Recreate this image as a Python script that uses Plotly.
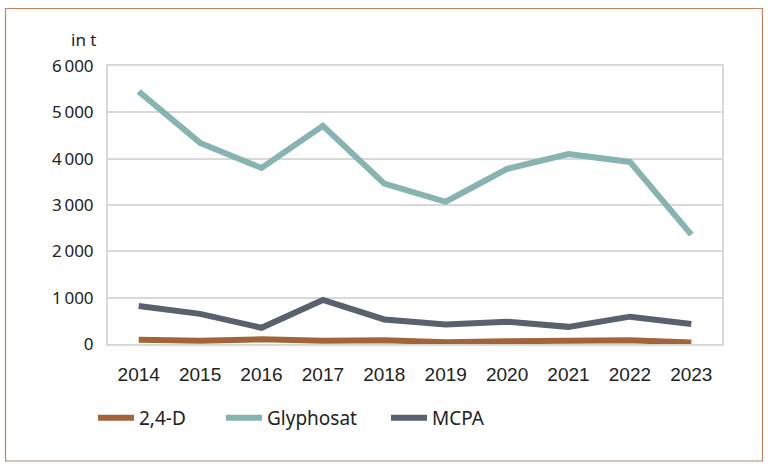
import plotly.graph_objects as go

years = ["2014", "2015", "2016", "2017", "2018", "2019", "2020", "2021", "2022", "2023"]
d24 = [90, 70, 100, 70, 80, 40, 60, 70, 80, 30]
glyphosat = [5450, 4340, 3800, 4710, 3460, 3070, 3780, 4100, 3930, 2360]
mcpa = [820, 650, 350, 950, 530, 420, 480, 370, 590, 430]
yticks = [0, 1000, 2000, 3000, 4000, 5000, 6000]
ytick_labels = ["0", "1\u2009000", "2\u2009000", "3\u2009000", "4\u2009000", "5\u2009000", "6\u2009000"]

NARROW = "Liberation Sans Narrow, Liberation Sans, sans-serif"
HUMAN = "Noto Sans, Open Sans, sans-serif"
TXT = "#222222"

W, H = 768, 469
L, R, T, B = 108, 46, 66, 125
pw, ph = W - L - R, H - T - B

series = [("2,4-D", d24, "#a2653a", "legend", 99),
          ("Glyphosat", glyphosat, "#87b4b1", "legend2", 227),
          ("MCPA", mcpa, "#58616c", "legend3", 392)]

fig = go.Figure()
legends = {}
for name, vals, col, lg, lx in series:
    fig.add_trace(go.Scatter(x=years, y=vals, name=name, mode="lines", legend=lg,
                             line=dict(color=col, width=6)))
    legends[lg] = dict(orientation="h", x=(lx - 6 - L) / pw, y=(344 - 418) / ph,
                       xanchor="left", yanchor="middle", bgcolor="rgba(0,0,0,0)",
                       font=dict(family=HUMAN, size=19, color=TXT), itemwidth=36)

fig.update_layout(
    width=W, height=H,
    margin=dict(l=L, r=R, t=T, b=B),
    paper_bgcolor="white", plot_bgcolor="white",
    font=dict(family=HUMAN, size=17, color=TXT),
    showlegend=True,
    xaxis=dict(type="category", range=[-0.5, 9.5], showgrid=False,
               showline=True, linecolor="#d9d9d9", linewidth=2, mirror=True,
               ticks="", tickfont=dict(family=NARROW, size=19, color=TXT), ticklabelstandoff=12,
               fixedrange=True),
    yaxis=dict(range=[0, 6000], tickvals=yticks, ticktext=ytick_labels, showgrid=True,
               gridcolor="#d9d9d9", gridwidth=2, zeroline=True, zerolinecolor="#d9d9d9", zerolinewidth=2,
               showline=True, linecolor="#d9d9d9", linewidth=2, mirror=True, ticks="",
               tickfont=dict(family=HUMAN, size=17, color=TXT), ticklabelstandoff=9, fixedrange=True),
    shapes=[dict(type="rect", xref="paper", yref="paper",
                 x0=(5.5 - L) / pw, x1=(762.5 - L) / pw, y0=(344 - 461) / ph, y1=(344 - 8.5) / ph,
                 line=dict(color="#bd8660", width=1.2), layer="below")],
    annotations=[dict(text="in t", xref="paper", yref="paper", x=(98 - L) / pw, y=(344 - 40) / ph,
                      xanchor="right", yanchor="middle", showarrow=False,
                      font=dict(family=HUMAN, size=17, color=TXT))],
    **legends,
)
fig.write_html("out.html", config={"displayModeBar": False},
               post_script="document.body.style.margin='0';document.body.style.overflow='hidden';")
